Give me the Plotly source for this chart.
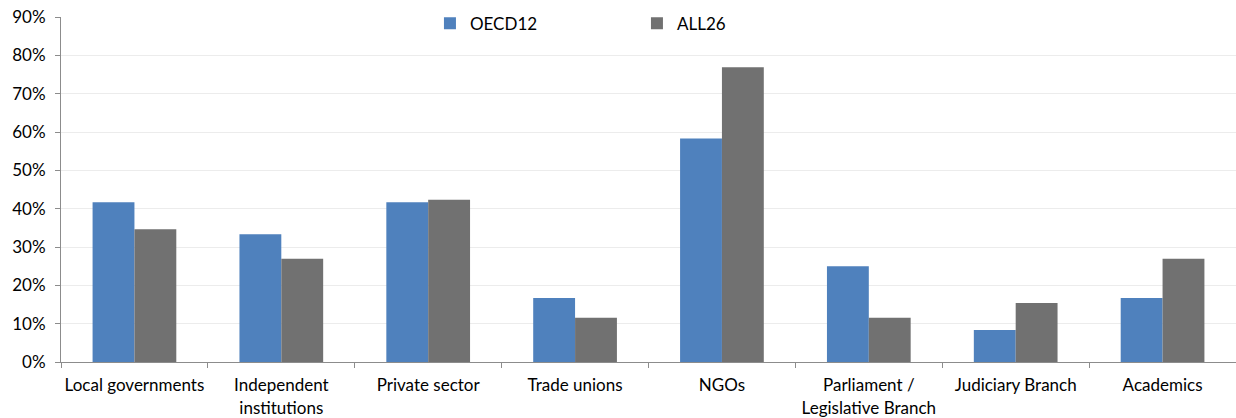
import plotly.graph_objects as go

categories = ["Local governments", "Independent<br>institutions", "Private sector", "Trade unions",
              "NGOs", "Parliament /<br>Legislative Branch", "Judiciary Branch", "Academics"]
oecd12 = [5/12, 4/12, 5/12, 2/12, 7/12, 3/12, 1/12, 2/12]
all26 = [9/26, 7/26, 11/26, 3/26, 20/26, 3/26, 4/26, 7/26]
y_ticks = [0, 0.1, 0.2, 0.3, 0.4, 0.5, 0.6, 0.7, 0.8, 0.9]

FONT = "Lato, Calibri, Carlito, sans-serif"

fig = go.Figure()
fig.add_bar(x=categories, y=oecd12, name="OECD12", marker_color="#4F81BD",
            marker_line_width=0)
fig.add_bar(x=categories, y=all26, name="ALL26", marker_color="#717171",
            marker_line_width=0)

fig.update_layout(
    width=1236, height=418,
    margin=dict(l=61, r=0, t=17, b=56),
    plot_bgcolor="white", paper_bgcolor="white",
    barmode="group", bargap=0.43, bargroupgap=0,
    font=dict(family=FONT, size=17, color="#000000"),
    legend=dict(orientation="h", x=0.314, xanchor="left", y=1.033, yanchor="top",
                entrywidth=162, entrywidthmode="pixels",
                font=dict(size=17), itemwidth=30, bgcolor="rgba(0,0,0,0)"),
    showlegend=True,
)
fig.update_xaxes(
    showline=True, linecolor="#8c8c8c", linewidth=1,
    ticks="outside", ticklen=5, tickcolor="#8c8c8c", tickangle=0,
    tickson="boundaries", showgrid=False, automargin=False,
    ticklabelstandoff=8,
    tickfont=dict(size=17, family=FONT),
)
fig.update_yaxes(
    range=[0, 0.9], tickvals=y_ticks, tickformat=".0%",
    showline=True, linecolor="#8c8c8c", linewidth=1,
    ticks="outside", ticklen=5, tickcolor="#8c8c8c",
    showgrid=True, gridcolor="#ececec", gridwidth=1, automargin=False,
    ticklabelstandoff=6,
    zeroline=False, tickfont=dict(size=17, family=FONT),
)

fig.write_html("out.html", config={"displayModeBar": False},
               post_script="document.body.style.margin='0';document.body.style.overflow='hidden';")
